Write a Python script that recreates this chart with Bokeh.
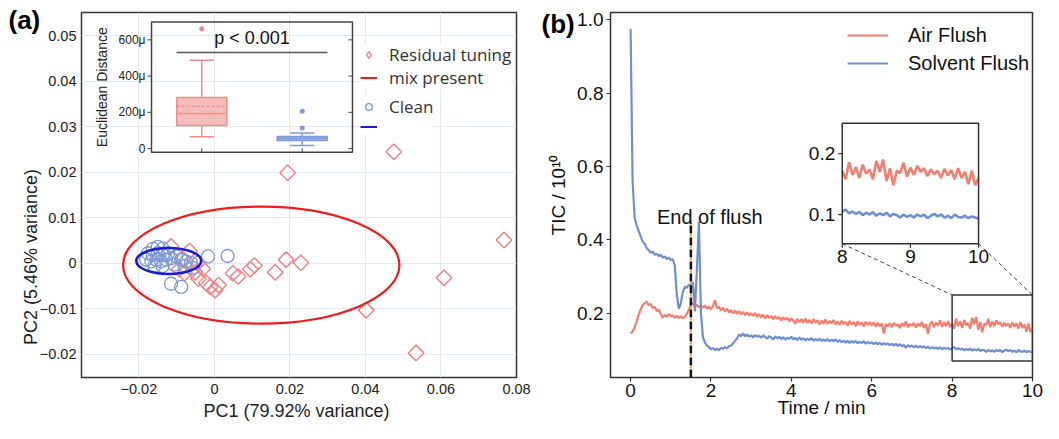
import numpy as np
from bokeh.plotting import figure
from bokeh.models import (Range1d, FixedTicker, Legend, LegendItem, GridBox,
                          NumeralTickFormatter, ColumnDataSource)
from bokeh.core.properties import value
from bokeh.embed import file_html
from bokeh.resources import INLINE

# ===================== DATA =====================
# ---- Panel (a): PCA scores ----
residual_pc1 = [-0.0115, -0.0066, -0.0084, -0.0044, -0.0031, -0.0093, -0.0079, -0.0051, -0.0042, -0.0022,
                -0.0011, 0.0002, 0.0011, 0.0049, 0.0063, 0.0095, 0.0106, 0.0161, 0.0190, 0.0229,
                0.0475, 0.0194, 0.0767, 0.0608, 0.0402, 0.0534]
residual_pc2 = [0.0037, 0.0027, 0.0009, 0.0001, -0.0012, -0.0013, -0.0022, -0.0020, -0.0034, -0.0043,
                -0.0052, -0.0059, -0.0048, -0.0022, -0.0029, -0.0013, -0.0005, -0.0020, 0.0008, 0.0001,
                0.0245, 0.0199, 0.0051, -0.0032, -0.0103, -0.0197]
clean_pc1 = [-0.0163, -0.0150, -0.0137, -0.0176, -0.0163, -0.0150, -0.0137, -0.0123, -0.0181, -0.0167,
             -0.0154, -0.0141, -0.0128, -0.0115, -0.0101, -0.0088, -0.0075, -0.0062, -0.0159, -0.0137,
             -0.0106, -0.0079, -0.0057, -0.0017, 0.0035, -0.0115, -0.0088]
clean_pc2 = [0.0032, 0.0036, 0.0032, 0.0022, 0.0018, 0.0022, 0.0018, 0.0022, 0.0008, 0.0004,
             0.0008, 0.0004, 0.0008, 0.0011, 0.0015, 0.0008, 0.0004, 0.0001, -0.0006, -0.0006,
             -0.0003, -0.0006, -0.0010, 0.0015, 0.0016, -0.0045, -0.0052]
# confidence ellipses (centre, full width, full height)
ellipse_group = ["Residual tuning mix present", "Clean"]
ellipse_cx = [0.0124, -0.0121]
ellipse_cy = [-0.0004, 0.0005]
ellipse_w = [0.0732, 0.0172]
ellipse_h = [0.0257, 0.0057]

pc1_ticks = [-0.02, 0.0, 0.02, 0.04, 0.06, 0.08]
pc1_tick_labels = ["\u22120.02", "0", "0.02", "0.04", "0.06", "0.08"]
pc2_ticks = [-0.02, -0.01, 0.0, 0.01, 0.02, 0.03, 0.04, 0.05]
pc2_tick_labels = ["\u22120.02", "\u22120.01", "0", "0.01", "0.02", "0.03", "0.04", "0.05"]

# ---- Panel (a) inset: Euclidean distance box plot (units of 1e-6) ----
box_groups = ["Residual tuning mix present", "Clean"]
box_lower = [65, 17]
box_q1 = [127, 44]
box_median = [194, 57]
box_q3 = [282, 67]
box_upper = [488, 86]
box_mean = [233, 55]
outlier_group = [0, 1, 1]
outlier_value = [661, 113, 206]
dist_ticks = [0, 200, 400, 600]
dist_tick_labels = ["0", "200\u03bc", "400\u03bc", "600\u03bc"]
p_value_text = "p < 0.001"

# ---- Panel (b): TIC traces, sampled every 0.05 min ----
solvent_flush_tic = [
    0.975,
    0.56, 0.462, 0.44, 0.425, 0.41, 0.395, 0.39, 0.378, 0.372, 0.365,
    0.368, 0.36, 0.362, 0.356, 0.36, 0.352, 0.355, 0.348, 0.352, 0.345,
    0.348, 0.33, 0.25, 0.212, 0.228, 0.258, 0.272, 0.27, 0.278, 0.275,
    0.285, 0.205, 0.32, 0.45, 0.2, 0.135, 0.12, 0.112, 0.108, 0.102,
    0.105, 0.1, 0.104, 0.099, 0.106, 0.103, 0.108, 0.104, 0.11, 0.112,
    0.118, 0.125, 0.132, 0.142, 0.138, 0.145, 0.137, 0.142, 0.136, 0.14,
    0.134, 0.141, 0.136, 0.139, 0.133, 0.14, 0.135, 0.131, 0.138, 0.134,
    0.129, 0.137, 0.132, 0.136, 0.13, 0.135, 0.128, 0.134, 0.13, 0.136,
    0.129, 0.133, 0.127, 0.134, 0.128, 0.132, 0.126, 0.131, 0.127, 0.133,
    0.125, 0.13, 0.126, 0.131, 0.124, 0.129, 0.125, 0.13, 0.123, 0.128,
    0.124, 0.129, 0.122, 0.127, 0.121, 0.126, 0.12, 0.125, 0.119, 0.124,
    0.12, 0.125, 0.118, 0.123, 0.119, 0.124, 0.117, 0.122, 0.118, 0.121,
    0.116, 0.121, 0.115, 0.12, 0.114, 0.119, 0.115, 0.118, 0.113, 0.117,
    0.112, 0.117, 0.111, 0.116, 0.11, 0.114, 0.106, 0.113, 0.109, 0.112,
    0.107, 0.112, 0.106, 0.111, 0.107, 0.11, 0.105, 0.109, 0.104, 0.108,
    0.104, 0.107, 0.103, 0.107, 0.102, 0.106, 0.103, 0.106, 0.101, 0.105,
    0.108, 0.102, 0.105, 0.101, 0.104, 0.099, 0.103, 0.1, 0.104, 0.098,
    0.102, 0.099, 0.103, 0.097, 0.101, 0.099, 0.095, 0.1, 0.096, 0.099,
    0.095, 0.1, 0.097, 0.1, 0.094, 0.098, 0.101, 0.097, 0.1, 0.095,
    0.098, 0.094, 0.1, 0.096, 0.095, 0.098, 0.094, 0.097, 0.095, 0.093,
]
air_flush_tic = [
    0.145,
    0.15, 0.162, 0.178, 0.195, 0.21, 0.222, 0.228, 0.232, 0.222, 0.226,
    0.214, 0.218, 0.206, 0.21, 0.198, 0.188, 0.196, 0.19, 0.198, 0.192,
    0.195, 0.188, 0.193, 0.187, 0.192, 0.186, 0.191, 0.198, 0.21, 0.222,
    0.228, 0.218, 0.224, 0.216, 0.222, 0.215, 0.221, 0.212, 0.219, 0.211,
    0.22, 0.236, 0.214, 0.218, 0.208, 0.215, 0.205, 0.212, 0.202, 0.209,
    0.2, 0.208, 0.199, 0.206, 0.197, 0.204, 0.195, 0.203, 0.194, 0.2,
    0.193, 0.201, 0.19, 0.198, 0.189, 0.196, 0.186, 0.195, 0.187, 0.193,
    0.184, 0.192, 0.185, 0.19, 0.18, 0.189, 0.182, 0.188, 0.178, 0.186,
    0.18, 0.172, 0.185, 0.176, 0.184, 0.175, 0.186, 0.174, 0.182, 0.172,
    0.184, 0.175, 0.181, 0.17, 0.18, 0.172, 0.183, 0.171, 0.179, 0.173,
    0.182, 0.17, 0.178, 0.168, 0.18, 0.171, 0.177, 0.166, 0.179, 0.17,
    0.176, 0.165, 0.178, 0.169, 0.175, 0.164, 0.177, 0.168, 0.176, 0.167,
    0.175, 0.163, 0.174, 0.165, 0.172, 0.145, 0.171, 0.164, 0.173, 0.162,
    0.174, 0.166, 0.17, 0.16, 0.173, 0.165, 0.178, 0.162, 0.171, 0.166,
    0.174, 0.161, 0.172, 0.165, 0.176, 0.16, 0.171, 0.144, 0.17, 0.178,
    0.162, 0.175, 0.166, 0.181, 0.163, 0.176, 0.165, 0.179, 0.162, 0.172,
    0.158, 0.186, 0.165, 0.178, 0.16, 0.182, 0.167, 0.174, 0.158, 0.188,
    0.17, 0.19, 0.155, 0.176, 0.148, 0.172, 0.168, 0.185, 0.162, 0.177,
    0.165, 0.18, 0.17, 0.176, 0.163, 0.174, 0.166, 0.172, 0.16, 0.175,
    0.164, 0.173, 0.158, 0.176, 0.16, 0.17, 0.15, 0.172, 0.148, 0.16,
]
sample_step_min = 0.05
end_of_flush_min = 1.5
zoom_window_t = [8.0, 10.0]
zoom_window_tic = [0.07, 0.25]
time_ticks = [0, 2, 4, 6, 8, 10]
tic_ticks = [0.2, 0.4, 0.6, 0.8, 1.0]
inset_time_ticks = [8, 9, 10]
inset_tic_ticks = [0.1, 0.2]
inset_tic_tick_labels = ["0.1", "0.2"]

# ===================== STYLE / LAYOUT =====================
FONT = "Liberation Sans"
RED_PT = "#ec8787"
BLUE_PT = "#7b98d4"
RED_ELL = "#ee1d1d"
BLUE_ELL = "#1a1ad2"
AIR = "#f07f6f"
SOLV = "#6f8fd0"
FRAME = "#333333"
NAN = float("nan")

H = 423
WA, WB = 532, 511
BT, BB = 12, 46
A_BL, A_BR = 81, 16
B_BL, B_BR = 78, 11
FH = H - BT - BB
A_FW = WA - A_BL - A_BR
B_FW = WB - B_BL - B_BR


def framed_range(lo, hi, f0, f1):
    span = (hi - lo) / (f1 - f0)
    start = lo - f0 * span
    return Range1d(start=start, end=start + span)


def try_set(obj, attr, val, fallback=None):
    try:
        setattr(obj, attr, val)
        return True
    except Exception:
        if fallback is not None:
            setattr(obj, attr, fallback)
        return False


def clear_fig(p):
    p.border_fill_alpha = 0
    p.background_fill_alpha = 0


# ===================== PANEL (a) =====================
xa0, xa1 = -0.0352, 0.08
ya0, ya1 = -0.0251, 0.0551
pa = figure(width=WA, height=H, x_range=Range1d(xa0, xa1), y_range=Range1d(ya0, ya1),
            output_backend="svg", toolbar_location=None,
            min_border_left=A_BL, min_border_right=A_BR, min_border_top=BT, min_border_bottom=BB)
clear_fig(pa)
pa.outline_line_color = FRAME
pa.outline_line_width = 1.5
pa.outline_line_alpha = 1.0
pa.grid.grid_line_color = "#e2e9f3"
pa.grid.grid_line_width = 1
for ax in (pa.xaxis, pa.yaxis):
    ax.axis_line_color = None
    ax.major_tick_in = 0
    ax.major_tick_out = 0
    ax.minor_tick_line_color = None
    ax.major_label_text_font = FONT
    ax.major_label_text_font_size = "14.5px"
    ax.major_label_text_color = "#222222"
pa.xaxis.ticker = FixedTicker(ticks=pc1_ticks)
pa.xaxis.major_label_overrides = dict(zip(pc1_ticks, pc1_tick_labels))
pa.xaxis.major_label_standoff = 6
pa.xaxis.axis_label = "PC1  (79.92% variance)"
pa.xaxis.axis_label_text_font = FONT
pa.xaxis.axis_label_text_font_size = "18px"
pa.xaxis.axis_label_text_font_style = "normal"
pa.xaxis.axis_label_text_color = "#222222"
pa.xaxis.axis_label_standoff = 4
pa.yaxis.ticker = FixedTicker(ticks=pc2_ticks)
pa.yaxis.major_label_overrides = dict(zip(pc2_ticks, pc2_tick_labels))
pa.yaxis.major_label_standoff = 5

r_res = pa.scatter(residual_pc1, residual_pc2, marker="square", angle=np.pi / 4, size=11,
                   fill_color=None, line_color=RED_PT, line_width=1.5)
r_clean = pa.scatter(clean_pc1, clean_pc2, marker="circle", size=13,
                     fill_color=None, line_color=BLUE_PT, line_width=1.3)
ell_src = ColumnDataSource(dict(x=ellipse_cx, y=ellipse_cy, w=ellipse_w, h=ellipse_h,
                                c=[RED_ELL, BLUE_ELL], lw=[2.2, 2.6]))
pa.ellipse(x="x", y="y", width="w", height="h", source=ell_src, fill_color=None,
           line_color="c", line_width="lw")
# legend-only keys (no visible data)
r_diamond_key = pa.scatter(x=[NAN], y=[NAN], marker="diamond", size=12, fill_color=None,
                           line_color=RED_PT, line_width=1.5)
r_red_line = pa.line(x=[NAN, NAN], y=[NAN, NAN], line_color=RED_ELL, line_width=2)
r_blue_line = pa.line(x=[NAN, NAN], y=[NAN, NAN], line_color=BLUE_ELL, line_width=2)

# ---- inset box plot ----
ifx0, ifx1 = 70 / 435, 271 / 435
ify0, ify1 = 1 - 146 / 381, 1 - 10 / 381
bx0, bx1 = 0.5, 2.5
by0, by1 = -21, 698
pa.extra_x_ranges = {"bx": framed_range(bx0, bx1, ifx0, ifx1)}
pa.extra_y_ranges = {"by": framed_range(by0, by1, ify0, ify1)}
ppu_bx = (ifx1 - ifx0) * A_FW / (bx1 - bx0)
ppu_by = (ify1 - ify0) * FH / (by1 - by0)
kw = dict(x_range_name="bx", y_range_name="by")

pos = [1, 2]
box_fill = ["#f5b4b4", "#a6bbe6"]
box_line = ["#ee8c8c", "#7c99d6"]
half = 0.25
cap = 0.12
for i in range(2):
    c = pos[i]
    pa.segment(x0=[c], y0=[box_q3[i]], x1=[c], y1=[box_upper[i]], line_color=box_line[i], line_width=1.5, **kw)
    pa.segment(x0=[c], y0=[box_lower[i]], x1=[c], y1=[box_q1[i]], line_color=box_line[i], line_width=1.5, **kw)
    pa.segment(x0=[c - cap], y0=[box_upper[i]], x1=[c + cap], y1=[box_upper[i]], line_color=box_line[i], line_width=1.5, **kw)
    pa.segment(x0=[c - cap], y0=[box_lower[i]], x1=[c + cap], y1=[box_lower[i]], line_color=box_line[i], line_width=1.5, **kw)
    pa.quad(left=[c - half], right=[c + half], bottom=[box_q1[i]], top=[box_q3[i]],
            fill_color=box_fill[i], fill_alpha=0.9, line_color=box_line[i], line_width=1.5, **kw)
    pa.segment(x0=[c - half], y0=[box_median[i]], x1=[c + half], y1=[box_median[i]],
               line_color=box_line[i], line_width=1.5, **kw)
    pa.segment(x0=[c - half], y0=[box_mean[i]], x1=[c + half], y1=[box_mean[i]],
               line_color=box_line[i], line_width=1.3, line_dash="3 2", **kw)
pa.scatter(x=[pos[g] for g in outlier_group], y=outlier_value, size=5,
           fill_color=[box_line[g] for g in outlier_group], line_color=None, **kw)
pa.quad(left=[bx0], right=[bx1], bottom=[by0], top=[by1], fill_color=None,
        line_color="#444444", line_width=1.5, **kw)
t_len_x = 4 / ppu_bx
t_len_y = 4 / ppu_by
nd = len(dist_ticks)
pa.segment(x0=[bx0 - t_len_x] * nd, y0=dist_ticks, x1=[bx0] * nd, y1=dist_ticks, line_color="#444444", line_width=1, **kw)
pa.segment(x0=[bx1 - t_len_x] * nd, y0=dist_ticks, x1=[bx1] * nd, y1=dist_ticks, line_color="#444444", line_width=1, **kw)
pa.segment(x0=pos, y0=[by0] * 2, x1=pos, y1=[by0 + t_len_y] * 2, line_color="#444444", line_width=1, **kw)
pa.text(x=[bx0 - 6 / ppu_bx] * nd, y=dist_ticks, text=dist_tick_labels, text_font=value(FONT),
        text_font_size="12px", text_align="right", text_baseline="middle", text_color="#222222", **kw)
pa.text(x=[bx0 - 50 / ppu_bx], y=[(by0 + by1) / 2], text=["Euclidean Distance"], angle=np.pi / 2,
        text_font=value(FONT), text_font_size="14px", text_align="center", text_baseline="middle",
        text_color="#222222", **kw)
pa.segment(x0=[0.75], y0=[530], x1=[2.25], y1=[530], line_color="#555555", line_width=1.3, **kw)
pa.text(x=[1.5], y=[530 + 5 / ppu_by], text=[p_value_text], text_font=value(FONT), text_font_size="18px",
        text_align="center", text_baseline="bottom", text_color="#111111", **kw)

# legend (a)
leg_kw = dict(label_text_font="Open Sans", label_text_font_size="17px", label_text_color="#333333",
              glyph_width=17, glyph_height=17, label_height=17, label_standoff=12, padding=6, margin=0,
              border_line_color=None, background_fill_color="white", background_fill_alpha=1.0)
legA1 = Legend(items=[LegendItem(label="Residual tuning", renderers=[r_diamond_key]),
                      LegendItem(label="mix present", renderers=[r_red_line])],
               location=(279, 288), **leg_kw)
legA2 = Legend(items=[LegendItem(label="Clean", renderers=[r_clean]),
                      LegendItem(label=" ", renderers=[r_blue_line])],
               location=(279, 242), **leg_kw)
for lg in (legA1, legA2):
    try_set(lg, "label_text_line_height", 0.8, 1.2)
    try_set(lg, "spacing", -3, 0)
pa.add_layout(legA1)
pa.add_layout(legA2)

# ===================== PANEL (b) =====================
xb0, xb1 = -0.5, 10.0
yb0, yb1 = 0.025, 1.02
pb = figure(width=WB, height=H, x_range=Range1d(xb0, xb1), y_range=Range1d(yb0, yb1),
            output_backend="svg", toolbar_location=None,
            min_border_left=B_BL, min_border_right=B_BR, min_border_top=BT, min_border_bottom=BB)
clear_fig(pb)
pb.outline_line_color = FRAME
pb.outline_line_width = 1.5
pb.outline_line_alpha = 1.0
pb.grid.visible = False
for ax in (pb.xaxis, pb.yaxis):
    ax.axis_line_color = None
    ax.major_tick_in = 0
    ax.major_tick_out = 4
    ax.major_tick_line_color = FRAME
    ax.major_tick_line_width = 1.2
    ax.minor_tick_line_color = None
    ax.major_label_text_font = FONT
    ax.major_label_text_font_size = "19px"
    ax.major_label_text_color = "#111111"
pb.xaxis.ticker = FixedTicker(ticks=time_ticks)
pb.xaxis.major_label_standoff = 2
pb.xaxis.axis_label = "Time / min"
pb.xaxis.axis_label_text_font = FONT
pb.xaxis.axis_label_text_font_size = "19px"
pb.xaxis.axis_label_text_font_style = "normal"
pb.xaxis.axis_label_text_color = "#111111"
try_set(pb.xaxis, "axis_label_standoff", -3, 0)
pb.yaxis.ticker = FixedTicker(ticks=tic_ticks)
pb.yaxis.formatter = NumeralTickFormatter(format="0.0")
pb.yaxis.major_label_standoff = 3
pb.yaxis.axis_label = "TIC / 10\u00b9\u2070"
pb.yaxis.axis_label_text_font = FONT
pb.yaxis.axis_label_text_font_size = "19px"
pb.yaxis.axis_label_text_font_style = "normal"
pb.yaxis.axis_label_text_color = "#111111"
pb.yaxis.axis_label_standoff = 5

time_min = [round(i * sample_step_min, 2) for i in range(len(air_flush_tic))]
time_min_s = [round(i * sample_step_min, 2) for i in range(len(solvent_flush_tic))]
r_air = pb.line(time_min, air_flush_tic, line_color=AIR, line_width=2.2)
r_solv = pb.line(time_min_s, solvent_flush_tic, line_color=SOLV, line_width=2.2)

pb.segment(x0=[end_of_flush_min], y0=[yb0], x1=[end_of_flush_min], y1=[0.45],
           line_color="#111111", line_width=2.5, line_dash="8 4")
pb.segment(x0=[end_of_flush_min], y0=[yb0], x1=[end_of_flush_min], y1=[0.45],
           line_color="#ff9a1a", line_width=2.5, line_dash="2 10", line_dash_offset=3)
pb.text(x=[1.97], y=[0.463], text=["End of flush"], text_font=value(FONT), text_font_size="20px",
        text_align="center", text_baseline="alphabetic", text_color="#111111")

# zoom window rectangle
pb.quad(left=[zoom_window_t[0]], right=[zoom_window_t[1]], bottom=[zoom_window_tic[0]],
        top=[zoom_window_tic[1]], fill_color=None, line_color=FRAME, line_width=1.5)

# inset (b)
jfx0, jfx1 = 0.5492, 0.8722
jfy0, jfy1 = 0.3664, 0.6968
ix0, ix1 = 8.0, 10.0
iy0, iy1 = 0.052, 0.25
pb.extra_x_ranges = {"ix": framed_range(ix0, ix1, jfx0, jfx1)}
pb.extra_y_ranges = {"iy": framed_range(iy0, iy1, jfy0, jfy1)}
ikw = dict(x_range_name="ix", y_range_name="iy")
ppu_ix = (jfx1 - jfx0) * B_FW / (ix1 - ix0)
ppu_iy = (jfy1 - jfy0) * FH / (iy1 - iy0)

corner_x = [xb0 + jfx0 * (xb1 - xb0), xb0 + jfx1 * (xb1 - xb0)]
corner_y = yb0 + jfy0 * (yb1 - yb0)
pb.segment(x0=corner_x, y0=[corner_y] * 2, x1=zoom_window_t, y1=[zoom_window_tic[1]] * 2,
           line_color="#444444", line_width=1, line_dash="4 3")

pb.quad(left=[ix0], right=[ix1], bottom=[iy0], top=[iy1], fill_color="white",
        line_color=None, **ikw)
sel = [i for i, t in enumerate(time_min) if ix0 <= t <= ix1]
pb.line([time_min[i] for i in sel], [air_flush_tic[i] for i in sel], line_color=AIR, line_width=2.6, **ikw)
sel_s = [i for i, t in enumerate(time_min_s) if ix0 <= t <= ix1]
pb.line([time_min_s[i] for i in sel_s], [solvent_flush_tic[i] for i in sel_s], line_color=SOLV,
        line_width=2.6, **ikw)
pb.quad(left=[ix0], right=[ix1], bottom=[iy0], top=[iy1], fill_color=None,
        line_color=FRAME, line_width=1.5, **ikw)
n_xt = len(inset_time_ticks)
n_yt = len(inset_tic_ticks)
pb.segment(x0=inset_time_ticks, y0=[iy0] * n_xt, x1=inset_time_ticks, y1=[iy0 - 4 / ppu_iy] * n_xt,
           line_color=FRAME, line_width=1.2, **ikw)
pb.segment(x0=[ix0] * n_yt, y0=inset_tic_ticks, x1=[ix0 - 4 / ppu_ix] * n_yt, y1=inset_tic_ticks,
           line_color=FRAME, line_width=1.2, **ikw)
pb.text(x=inset_time_ticks, y=[iy0 - 6 / ppu_iy] * n_xt, text=[str(t) for t in inset_time_ticks],
        text_font=value(FONT), text_font_size="19px", text_align="center", text_baseline="top",
        text_color="#111111", **ikw)
pb.text(x=[ix0 - 7 / ppu_ix] * n_yt, y=inset_tic_ticks, text=inset_tic_tick_labels,
        text_font=value(FONT), text_font_size="19px", text_align="right", text_baseline="middle",
        text_color="#111111", **ikw)

legB = Legend(items=[LegendItem(label="Air Flush", renderers=[r_air]),
                     LegendItem(label="Solvent Flush", renderers=[r_solv])],
              location=(237, 300), label_text_font=FONT, label_text_font_size="20px",
              label_text_color="#111111", glyph_width=41, glyph_height=28, label_height=28,
              label_standoff=20, spacing=0, padding=0, margin=0, border_line_color=None,
              background_fill_alpha=0.0)
pb.add_layout(legB)


# ===================== full-size transparent text layers (panel letters, PC2 title) =====================
def overlay(width, height):
    f = figure(width=width, height=height, x_range=Range1d(0, width), y_range=Range1d(height, 0),
               output_backend="svg", toolbar_location=None, x_axis_location=None,
               y_axis_location=None, min_border=0)
    f.grid.visible = False
    f.outline_line_color = None
    clear_fig(f)
    return f


lab_a = overlay(WA, H)
lab_b = overlay(WB, H)
aligned_off = not (try_set(lab_a, "frame_align", False) and try_set(lab_b, "frame_align", False))
# if frame alignment could not be switched off, the layer's frame coincides with the panel frame
offa = (A_BL, BT) if aligned_off else (0, 0)
offb = (B_BL, BT) if aligned_off else (0, 0)
lab_a.text(x=[8 - offa[0]], y=[4 - offa[1]], text=["(a)"], text_font=value(FONT), text_font_size="26px",
           text_font_style="bold", text_align="left", text_baseline="top", text_color="#000000")
lab_a.text(x=[30 - offa[0]], y=[254 - offa[1]], text=["PC2  (5.46% variance)"], angle=np.pi / 2,
           text_font=value(FONT), text_font_size="18px", text_align="center", text_baseline="middle",
           text_color="#222222")
lab_b.text(x=[9 - offb[0]], y=[8 - offb[1]], text=["(b)"], text_font=value(FONT), text_font_size="26px",
           text_font_style="bold", text_align="left", text_baseline="top", text_color="#000000")

layout = GridBox(children=[(pa, 0, 0), (pb, 0, 1), (lab_a, 0, 0), (lab_b, 0, 1)])
open("out.html", "w").write(file_html(layout, INLINE, title="PCA and TIC"))
